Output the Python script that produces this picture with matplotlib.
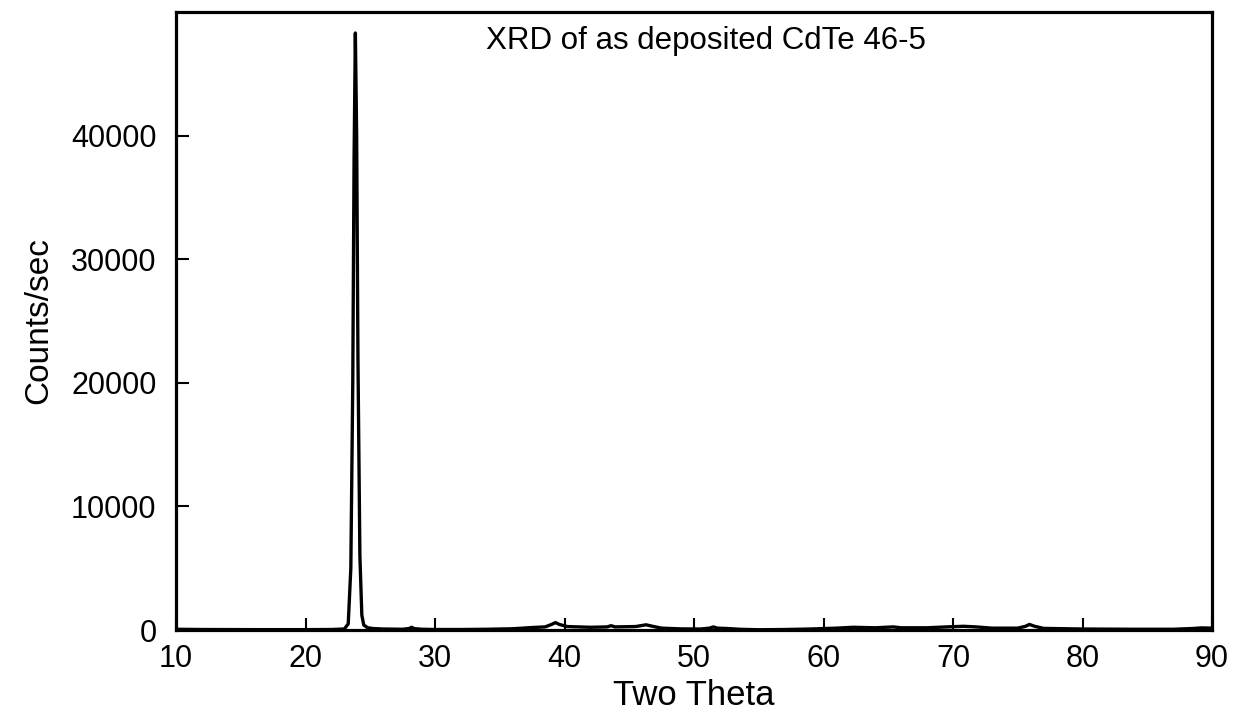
import matplotlib
matplotlib.use('Agg')
import matplotlib.pyplot as plt

# 2theta / counts
two_theta = [10, 12, 16, 20, 22, 23, 23.3, 23.5, 23.65, 23.75, 23.85, 23.95, 24.05,
             24.2, 24.35, 24.5, 24.8, 25.2, 26, 27.5, 28.0, 28.2, 28.4, 29, 30, 32,
             34, 36, 37.5, 38.5, 39.0, 39.3, 39.6, 40.2, 42, 43.3, 43.6, 43.9, 45.5,
             46.3, 46.8, 47.5, 49, 50.5, 51.2, 51.5, 51.8, 52.6, 53.5, 55, 57, 59,
             61, 62.3, 64, 65.4, 66, 68, 69.5, 70.8, 71.8, 73, 75, 75.6, 75.9, 76.3,
             77, 80, 84, 87, 88.5, 89.2, 90]
counts = [60, 40, 30, 30, 40, 80, 500, 5000, 20000, 38000, 48300, 40000, 22000,
          6000, 1200, 400, 180, 120, 80, 60, 120, 220, 110, 60, 40, 40,
          60, 100, 200, 250, 450, 600, 450, 280, 220, 250, 350, 250, 280,
          420, 300, 150, 90, 80, 150, 250, 150, 120, 60, 20, 40, 80,
          150, 220, 180, 250, 180, 180, 250, 300, 250, 150, 150, 300, 450, 300,
          130, 80, 60, 60, 120, 170, 150]

xticks = [10, 20, 30, 40, 50, 60, 70, 80, 90]
yticks = [0, 10000, 20000, 30000, 40000]
title = 'XRD of as deposited CdTe 46-5'

plt.rcParams['font.family'] = ['Liberation Sans', 'DejaVu Sans']

fig = plt.figure(figsize=(12.36, 7.16), dpi=100)
ax = fig.add_axes([176/1236, 1 - 630/716, (1212 - 176)/1236, (630 - 12)/716])

ax.plot(two_theta, counts, color='black', lw=2.4)
ax.set_xlim(10, 90)
ax.set_ylim(0, 50000)
ax.set_xticks(xticks)
ax.set_yticks(yticks)
ax.tick_params(direction='in', length=9, width=1.5, labelsize=22, colors='black')
ax.tick_params(axis='x', pad=10)
ax.tick_params(axis='y', pad=14)
for s in ax.spines.values():
    s.set_linewidth(2.3)

ax.set_xlabel('Two Theta', fontsize=25, labelpad=4)
ax.set_ylabel('Counts/sec', fontsize=24, labelpad=12)
ax.text(0.512, 0.977, title, transform=ax.transAxes, ha='center', va='top', fontsize=22.5)

fig.savefig('out.png', dpi=100)
